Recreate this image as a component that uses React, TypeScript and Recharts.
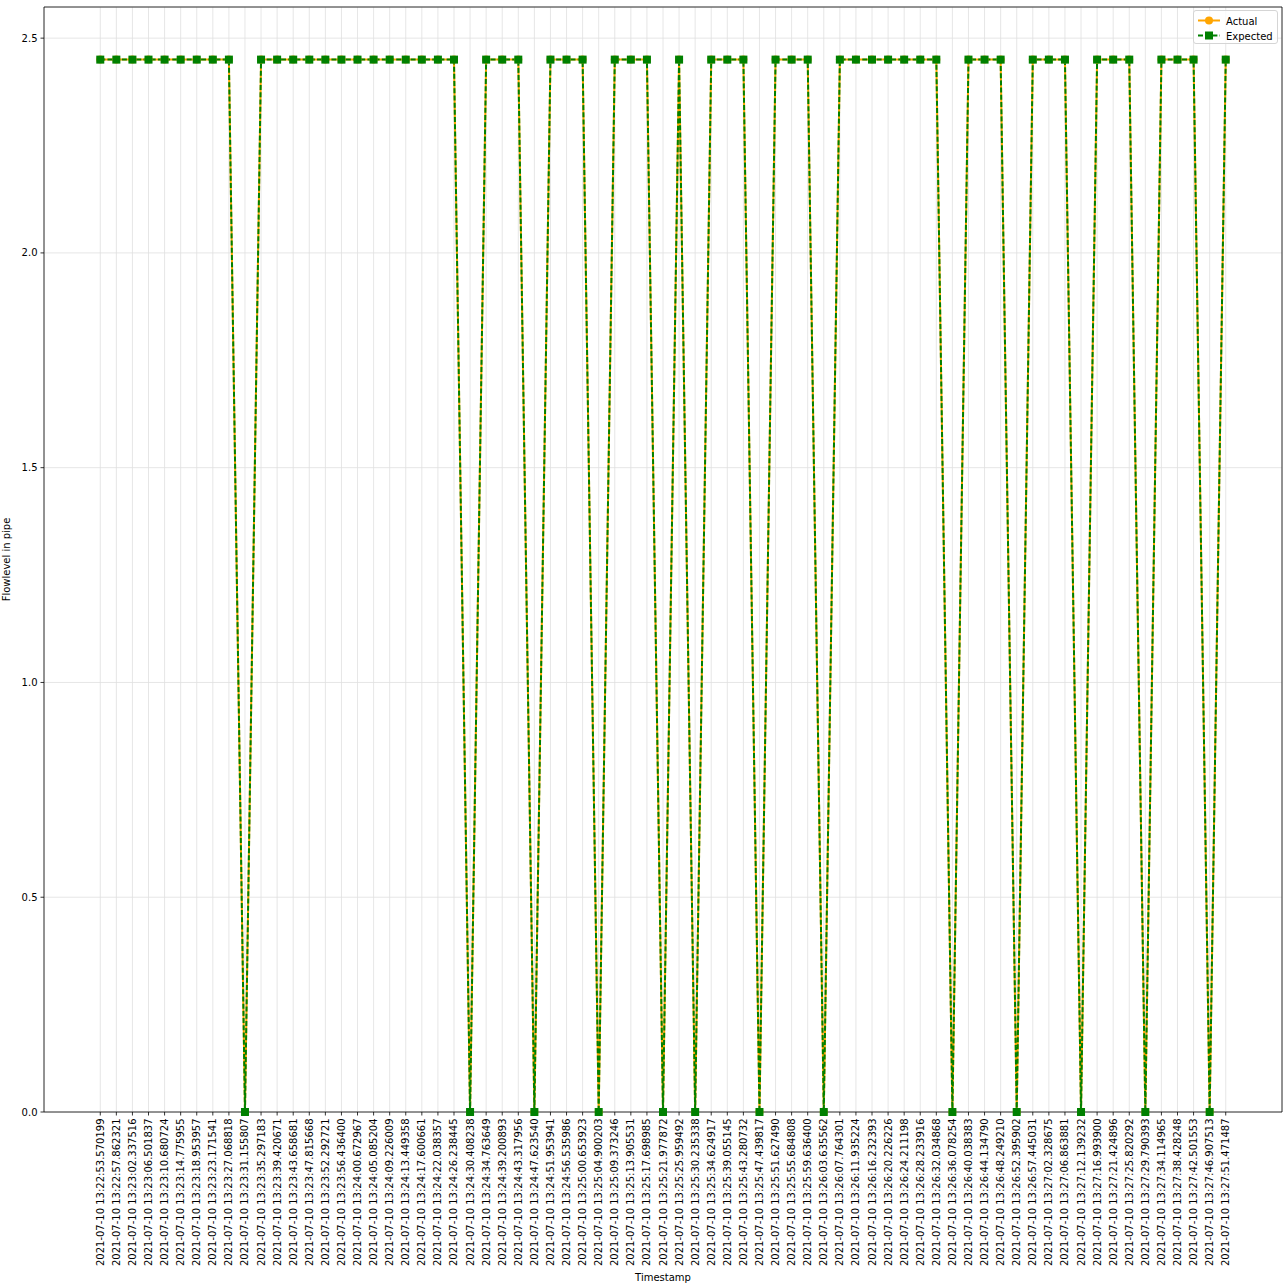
import React from 'react';
import {
  LineChart, Line, XAxis, YAxis, CartesianGrid, ReferenceLine,
} from 'recharts';

const timestamps = [
  '2021-07-10 13:22:53.570199', '2021-07-10 13:22:57.862321', '2021-07-10 13:23:02.337516',
  '2021-07-10 13:23:06.501837', '2021-07-10 13:23:10.680724', '2021-07-10 13:23:14.775955',
  '2021-07-10 13:23:18.953957', '2021-07-10 13:23:23.171541', '2021-07-10 13:23:27.068818',
  '2021-07-10 13:23:31.155807', '2021-07-10 13:23:35.297183', '2021-07-10 13:23:39.420671',
  '2021-07-10 13:23:43.658681', '2021-07-10 13:23:47.815668', '2021-07-10 13:23:52.292721',
  '2021-07-10 13:23:56.436400', '2021-07-10 13:24:00.672967', '2021-07-10 13:24:05.085204',
  '2021-07-10 13:24:09.226009', '2021-07-10 13:24:13.449358', '2021-07-10 13:24:17.600661',
  '2021-07-10 13:24:22.038357', '2021-07-10 13:24:26.238445', '2021-07-10 13:24:30.408238',
  '2021-07-10 13:24:34.763649', '2021-07-10 13:24:39.200893', '2021-07-10 13:24:43.317956',
  '2021-07-10 13:24:47.623540', '2021-07-10 13:24:51.953941', '2021-07-10 13:24:56.535986',
  '2021-07-10 13:25:00.653923', '2021-07-10 13:25:04.900203', '2021-07-10 13:25:09.373246',
  '2021-07-10 13:25:13.905531', '2021-07-10 13:25:17.698985', '2021-07-10 13:25:21.977872',
  '2021-07-10 13:25:25.959492', '2021-07-10 13:25:30.235338', '2021-07-10 13:25:34.624917',
  '2021-07-10 13:25:39.055145', '2021-07-10 13:25:43.280732', '2021-07-10 13:25:47.439817',
  '2021-07-10 13:25:51.627490', '2021-07-10 13:25:55.684808', '2021-07-10 13:25:59.636400',
  '2021-07-10 13:26:03.635562', '2021-07-10 13:26:07.764301', '2021-07-10 13:26:11.935224',
  '2021-07-10 13:26:16.232393', '2021-07-10 13:26:20.226226', '2021-07-10 13:26:24.211198',
  '2021-07-10 13:26:28.233916', '2021-07-10 13:26:32.034868', '2021-07-10 13:26:36.078254',
  '2021-07-10 13:26:40.038383', '2021-07-10 13:26:44.134790', '2021-07-10 13:26:48.249210',
  '2021-07-10 13:26:52.395902', '2021-07-10 13:26:57.445031', '2021-07-10 13:27:02.328675',
  '2021-07-10 13:27:06.863881', '2021-07-10 13:27:12.139232', '2021-07-10 13:27:16.993900',
  '2021-07-10 13:27:21.424896', '2021-07-10 13:27:25.820292', '2021-07-10 13:27:29.790393',
  '2021-07-10 13:27:34.114965', '2021-07-10 13:27:38.428248', '2021-07-10 13:27:42.501553',
  '2021-07-10 13:27:46.907513', '2021-07-10 13:27:51.471487',
];

const actual = [
  2.45, 2.45, 2.45, 2.45, 2.45, 2.45, 2.45, 2.45, 2.45, 0,
  2.45, 2.45, 2.45, 2.45, 2.45, 2.45, 2.45, 2.45, 2.45, 2.45,
  2.45, 2.45, 2.45, 0, 2.45, 2.45, 2.45, 0, 2.45, 2.45,
  2.45, 0, 2.45, 2.45, 2.45, 0, 2.45, 0, 2.45, 2.45,
  2.45, 0, 2.45, 2.45, 2.45, 0, 2.45, 2.45, 2.45, 2.45,
  2.45, 2.45, 2.45, 0, 2.45, 2.45, 2.45, 0, 2.45, 2.45,
  2.45, 0, 2.45, 2.45, 2.45, 0, 2.45, 2.45, 2.45, 0,
  2.45,
];

const expected = [
  2.45, 2.45, 2.45, 2.45, 2.45, 2.45, 2.45, 2.45, 2.45, 0,
  2.45, 2.45, 2.45, 2.45, 2.45, 2.45, 2.45, 2.45, 2.45, 2.45,
  2.45, 2.45, 2.45, 0, 2.45, 2.45, 2.45, 0, 2.45, 2.45,
  2.45, 0, 2.45, 2.45, 2.45, 0, 2.45, 0, 2.45, 2.45,
  2.45, 0, 2.45, 2.45, 2.45, 0, 2.45, 2.45, 2.45, 2.45,
  2.45, 2.45, 2.45, 0, 2.45, 2.45, 2.45, 0, 2.45, 2.45,
  2.45, 0, 2.45, 2.45, 2.45, 0, 2.45, 2.45, 2.45, 0,
  2.45,
];

const yTicks = [0, 0.5, 1.0, 1.5, 2.0, 2.5];

const FONT = 'DejaVu Sans, sans-serif';
const ORANGE = '#ffa500';
const GREEN = '#008000';
const X_DOMAIN = [-3.5, timestamps.length - 1 + 3.5];
const Y_DOMAIN = [0, 2.5725];
const DASH = '5 2.2';

const data = timestamps.map((t, i) => ({
  idx: i,
  actual: actual[i],
  expected: expected[i],
}));
const xTicks = data.map(d => d.idx);

function XTick(props: any) {
  const { x, y, payload } = props;
  return (
    <text
      x={0}
      y={0}
      transform={`translate(${x},${y}) rotate(-90)`}
      textAnchor="end"
      dy="0.35em"
      fontSize={10}
      fontFamily={FONT}
      fill="#000"
    >
      {timestamps[payload.value]}
    </text>
  );
}

function SquareDot(props: any) {
  const { cx, cy, index } = props;
  if (cx == null || cy == null) return <g key={`sq-${index}`} />;
  return <rect key={`sq-${index}`} x={cx - 4} y={cy - 4} width={8} height={8} fill={GREEN} />;
}

function LegendBox() {
  return (
    <div
      style={{
        position: 'absolute',
        left: 1193,
        top: 10,
        width: 85,
        height: 34,
        border: '1px solid #d5d5d5',
        borderRadius: 3,
        background: 'rgba(255,255,255,0.8)',
        boxSizing: 'border-box',
      }}
    >
      <svg width={85} height={34} style={{ position: 'absolute', left: 0, top: 0 }}>
        <line x1={4} x2={26} y1={9.5} y2={9.5} stroke={ORANGE} strokeWidth={2} />
        <circle cx={15} cy={9.5} r={4} fill={ORANGE} />
        <line x1={4} x2={26} y1={24.5} y2={24.5} stroke={GREEN} strokeWidth={2} strokeDasharray={DASH} />
        <rect x={11} y={20.5} width={8} height={8} fill={GREEN} />
        <text x={32} y={13.5} fontSize={10} fontFamily={FONT} fill="#000">Actual</text>
        <text x={32} y={28.5} fontSize={10} fontFamily={FONT} fill="#000">Expected</text>
      </svg>
    </div>
  );
}

export default function App() {
  return (
    <div style={{ position: 'absolute', left: 0, top: 0, width: 1288, height: 1288, background: '#fff' }}>
      <LineChart
        width={1288}
        height={1288}
        data={data}
        margin={{ top: 7, right: 6, left: 0, bottom: 0 }}
      >
        <CartesianGrid stroke="#e0e0e0" strokeWidth={0.8} horizontal vertical />
        <XAxis
          dataKey="idx"
          type="number"
          domain={X_DOMAIN}
          ticks={xTicks}
          interval={0}
          height={176}
          tick={<XTick />}
          tickSize={3.5}
          tickMargin={3}
          tickLine={{ stroke: '#000', strokeWidth: 0.8 }}
          axisLine={{ stroke: '#000', strokeWidth: 0.8 }}
          label={{ value: 'Timestamp', position: 'insideBottom', offset: 7, fontSize: 10, fontFamily: FONT, fill: '#000' }}
        />
        <YAxis
          type="number"
          domain={Y_DOMAIN}
          ticks={yTicks}
          width={44}
          tickFormatter={(v: number) => v.toFixed(1)}
          tick={{ fontSize: 10, fontFamily: FONT, fill: '#000' }}
          tickSize={3.5}
          tickMargin={3}
          tickLine={{ stroke: '#000', strokeWidth: 0.8 }}
          axisLine={{ stroke: '#000', strokeWidth: 0.8 }}
          label={{ value: 'Flowlevel in pipe', angle: -90, position: 'insideLeft', offset: 6, fontSize: 10, fontFamily: FONT, fill: '#000', style: { textAnchor: 'middle' } }}
        />
        <ReferenceLine y={Y_DOMAIN[1]} stroke="#000" strokeWidth={0.8} />
        <ReferenceLine x={X_DOMAIN[1]} stroke="#000" strokeWidth={0.8} />
        <Line
          dataKey="actual"
          stroke={ORANGE}
          strokeWidth={2}
          dot={{ r: 4, fill: ORANGE, stroke: ORANGE, strokeWidth: 0 }}
          activeDot={false}
          isAnimationActive={false}
        />
        <Line
          dataKey="expected"
          stroke={GREEN}
          strokeWidth={2}
          strokeDasharray={DASH}
          dot={(p: any) => <SquareDot {...p} />}
          activeDot={false}
          isAnimationActive={false}
        />
      </LineChart>
      <LegendBox />
    </div>
  );
}
